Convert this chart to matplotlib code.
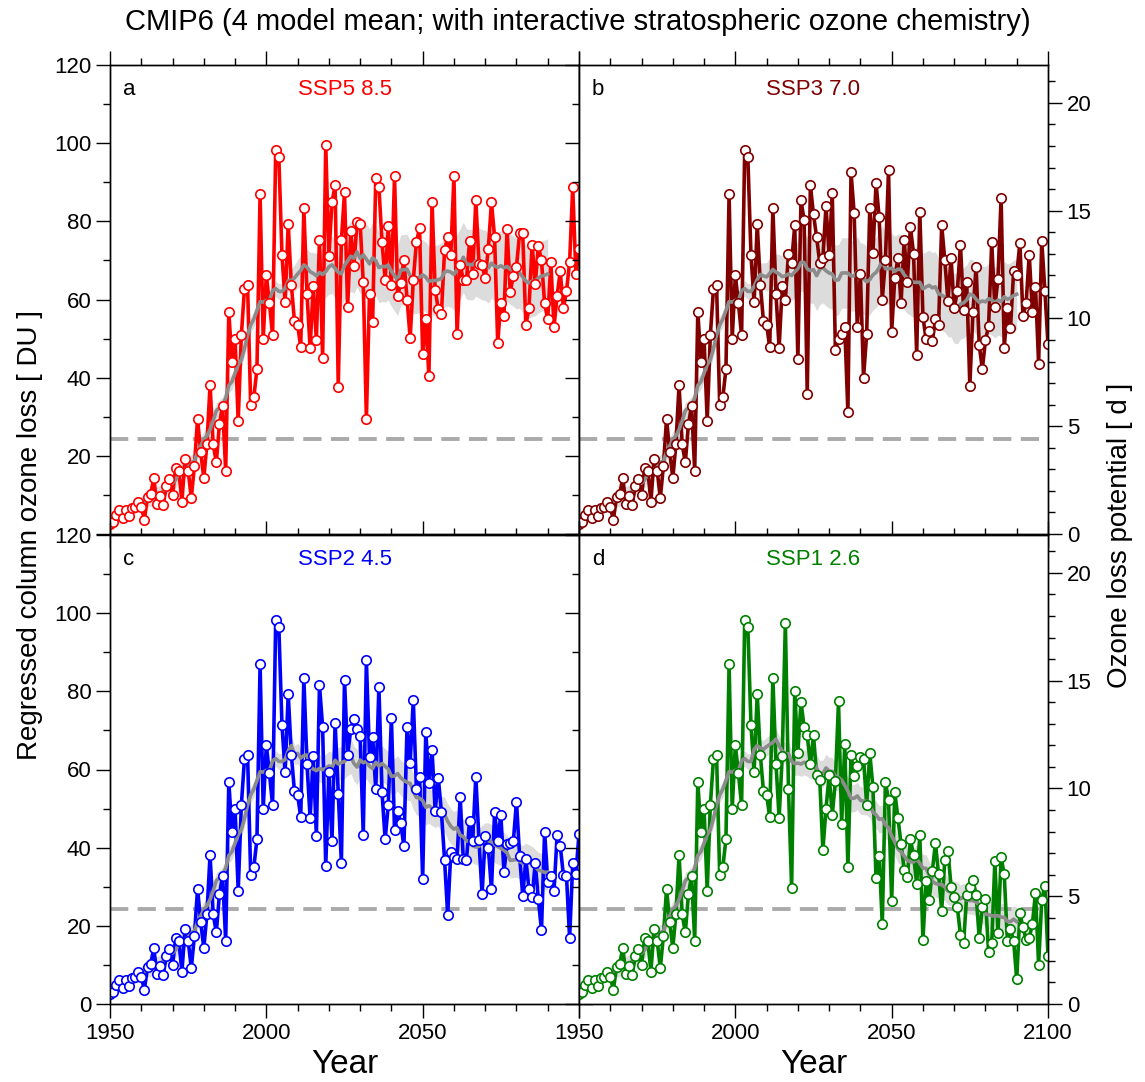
import matplotlib.pyplot as plt
import numpy as np
import pandas as pd

years = np.arange(1950, 2101)

# regressed column ozone loss [DU], 1950-2015 (same in all scenarios)
hist = [2.5, 3.0, 4.9, 6.2, 4.1, 6.2, 4.7, 6.6, 7.0, 8.3,
        6.8, 3.7, 9.4, 10.2, 14.3, 7.7, 9.8, 7.4, 12.3, 14.0,
        10.0, 16.8, 16.2, 8.3, 19.1, 16.2, 9.2, 17.4, 29.5, 21.0,
        14.3, 23.0, 38.1, 23.0, 18.3, 28.1, 32.8, 16.2, 56.8, 44.1,
        50.0, 28.9, 50.8, 62.6, 63.6, 33.0, 35.0, 42.2, 86.9, 50.0,
        66.2, 59.0, 50.8, 98.3, 96.4, 71.5, 59.3, 79.3, 63.7, 54.4,
        53.6, 47.8, 83.4, 61.5, 47.6, 63.4]

# 2016-2100
ssp585 = [49.6, 75.3, 45.1, 99.6, 71.1, 84.9, 89.2, 37.7, 75.1, 87.4,
          58.0, 77.4, 68.5, 79.8, 79.4, 64.4, 29.4, 61.4, 54.2, 91.1,
          88.9, 74.6, 65.1, 78.7, 63.7, 91.5, 61.0, 64.1, 70.2, 60.0,
          50.1, 64.9, 74.7, 78.2, 46.0, 55.0, 40.3, 84.9, 62.4, 57.6,
          56.4, 72.6, 75.9, 71.5, 91.5, 51.1, 68.7, 65.1, 64.9, 74.9,
          66.6, 85.5, 69.2, 68.9, 65.4, 73.0, 84.9, 76.0, 48.9, 59.1,
          55.7, 78.0, 62.0, 66.0, 68.3, 76.9, 77.0, 53.4, 57.8, 74.0,
          64.0, 73.6, 70.0, 59.0, 54.9, 69.6, 52.9, 61.0, 67.2, 57.9,
          62.1, 69.6, 88.8, 66.4, 72.8]
ssp370 = [60.0, 71.7, 69.4, 79.0, 44.9, 85.4, 80.3, 35.7, 89.2, 81.8,
          75.9, 69.4, 70.6, 83.9, 71.4, 87.2, 47.1, 49.8, 51.3, 53.0,
          31.2, 92.5, 82.1, 53.0, 66.6, 40.0, 51.1, 83.3, 71.9, 89.8,
          81.0, 60.0, 70.0, 93.2, 51.8, 65.6, 70.6, 59.1, 75.1, 64.4,
          78.6, 71.7, 45.9, 82.5, 55.6, 49.8, 52.0, 49.3, 54.9, 53.5,
          79.0, 70.0, 59.6, 70.6, 57.7, 62.1, 74.0, 57.4, 64.5, 37.9,
          56.9, 68.4, 48.3, 42.2, 49.6, 53.2, 74.6, 58.0, 65.3, 86.0,
          47.7, 57.7, 52.6, 67.2, 66.2, 74.5, 55.7, 59.0, 71.5, 56.8,
          63.3, 43.5, 75.0, 62.3, 48.5]
ssp245 = [43.1, 81.5, 70.9, 35.3, 59.3, 41.8, 72.0, 53.8, 36.1, 83.0,
          63.6, 70.3, 73.0, 70.3, 68.5, 43.3, 87.9, 63.3, 68.3, 55.0,
          81.1, 54.2, 42.1, 50.9, 73.2, 44.4, 49.5, 46.2, 40.3, 70.9,
          61.7, 77.9, 55.0, 58.0, 32.1, 69.7, 56.5, 64.9, 49.5, 57.9,
          49.1, 36.9, 22.8, 38.8, 37.7, 37.1, 52.9, 37.0, 36.8, 46.9,
          41.8, 58.2, 42.0, 28.1, 42.9, 40.0, 29.3, 49.0, 41.6, 48.4,
          33.9, 40.9, 41.1, 41.6, 51.8, 37.9, 27.7, 37.0, 29.4, 27.3,
          36.0, 26.8, 18.9, 44.1, 31.3, 32.8, 28.8, 43.2, 40.5, 33.0,
          32.7, 16.8, 36.1, 33.2, 43.5]
ssp126 = [97.6, 55.0, 29.8, 80.0, 64.3, 77.3, 70.9, 68.7, 61.3, 68.7,
          58.6, 57.2, 39.4, 50.0, 58.5, 48.4, 57.0, 77.4, 46.1, 66.6,
          35.0, 63.8, 58.3, 60.8, 63.3, 62.7, 51.0, 64.2, 55.5, 32.2,
          37.9, 20.4, 56.8, 52.3, 26.3, 54.2, 47.6, 40.9, 34.4, 32.6,
          42.1, 38.1, 30.7, 43.2, 16.4, 31.4, 26.5, 34.0, 41.2, 33.2,
          23.9, 36.9, 39.2, 30.0, 27.5, 24.8, 17.7, 15.6, 27.9, 30.0,
          31.7, 28.0, 17.0, 24.7, 26.9, 13.2, 15.5, 36.5, 18.1, 37.5,
          33.2, 16.2, 19.3, 16.2, 6.3, 23.2, 19.7, 16.4, 17.0, 20.4,
          28.4, 10.0, 26.6, 30.3, 12.2]

scenarios = [ssp585, ssp370, ssp245, ssp126]
scen_names = ['SSP5 8.5', 'SSP3 7.0', 'SSP2 4.5', 'SSP1 2.6']
scen_colors = ['#ff0000', '#800000', '#0000ff', '#008000']
letters = ['a', 'b', 'c', 'd']
# model spread (half width, DU) used for the grey band
spread_hist = 2.0
spread_scen = [9.0, 9.0, 4.5, 3.5]
threshold = 24.3
du_per_day = 5.515

plt.rcParams['font.family'] = ['Liberation Sans', 'DejaVu Sans']
fig = plt.figure(figsize=(11.45, 10.82), dpi=100)

W, H = 1145.0, 1082.0
boxes = [(110, 65), (579, 65), (110, 535), (579, 535)]

for i in range(4):
    x0, y0 = boxes[i]
    ax = fig.add_axes([x0 / W, 1 - (y0 + 469) / H, 469 / W, 469 / H])
    vals = np.array(hist + scenarios[i])
    runmean = pd.Series(vals).rolling(21, center=True).mean().values
    sp = np.where(years <= 2015, spread_hist, spread_scen[i])
    sp = pd.Series(sp).rolling(21, center=True, min_periods=1).mean().values

    ax.fill_between(years, runmean - sp, runmean + sp, color='#dcdcdc', lw=0, zorder=1)
    ax.axhline(threshold, color='#aaaaaa', lw=2.8, ls=(0, (4.7, 2.4)), zorder=1.5)
    ax.plot(years, vals, color=scen_colors[i], lw=2.6, zorder=2)
    ax.plot(years, runmean, color='#8c8c8c', lw=2.6, zorder=3)
    ax.plot(years, vals, 'o', mfc='white', mec=scen_colors[i], ms=6.8, mew=1.2, zorder=4)

    ax.set_xlim(1950, 2100)
    ax.set_ylim(0, 120)
    ax.set_xticks([1950, 2000, 2050, 2100])
    ax.set_xticks(np.arange(1950, 2101, 10), minor=True)
    ax.set_yticks(np.arange(0, 121, 20))
    ax.set_yticks(np.arange(0, 121, 10), minor=True)
    ax.tick_params(which='both', direction='out', top=True, width=1.0, labelsize=16)
    ax.tick_params(which='major', length=10)
    ax.tick_params(which='minor', length=5)

    if i < 2:
        ax.tick_params(labelbottom=False)
    if i == 0:
        ax.set_yticklabels([''] + [str(v) for v in range(20, 121, 20)])
    if i == 2:
        ax.set_xticklabels(['1950', '2000', '2050', ''])
    if i % 2 == 1:
        ax.tick_params(labelleft=False)
    if i >= 2:
        ax.set_xlabel('Year', fontsize=24, labelpad=4)

    ax2 = ax.twinx()
    ax2.set_ylim(0, 120 / du_per_day)
    ax2.set_yticks(np.arange(0, 21, 5))
    ax2.set_yticks(np.arange(0, 22, 1), minor=True)
    ax2.tick_params(which='both', direction='out', width=1.0, labelsize=16)
    ax2.tick_params(which='major', length=10)
    ax2.tick_params(which='minor', length=5)
    if i % 2 == 0:
        ax2.tick_params(labelright=False)

    for a in (ax, ax2):
        for s in a.spines.values():
            s.set_linewidth(1.0)

    ax.text(0.027, 0.97, letters[i], transform=ax.transAxes, fontsize=16, va='top', ha='left')
    ax.text(0.5, 0.97, scen_names[i], transform=ax.transAxes, fontsize=16,
            va='top', ha='center', color=scen_colors[i])

fig.text(578 / W, 1 - 22 / H, 'CMIP6 (4 model mean; with interactive stratospheric ozone chemistry)',
         fontsize=21, ha='center', va='center')
fig.text(30 / W, 1 - 535 / H, 'Regressed column ozone loss [ DU ]', fontsize=20,
         rotation=90, ha='center', va='center')
fig.text(1120 / W, 1 - 535 / H, 'Ozone loss potential [ d ]', fontsize=20,
         rotation=90, ha='center', va='center')

fig.savefig('out.png', dpi=100)
